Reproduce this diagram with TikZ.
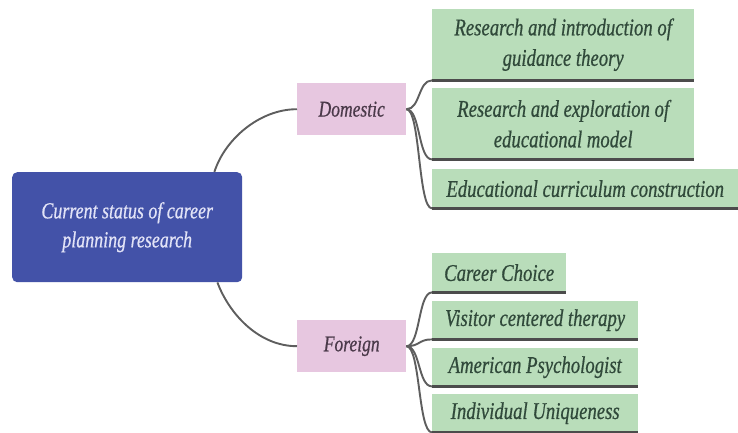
\documentclass[tikz,border=0pt]{standalone}
\usepackage{fontspec}
\newfontfamily\figfont{Liberation Serif}[FakeStretch=0.78,FakeBold=0.6]
\usetikzlibrary{calc}
\definecolor{cblue}{HTML}{4352A8}
\definecolor{cbluetext}{HTML}{E2E3F7}
\definecolor{cpink}{HTML}{E7C7E0}
\definecolor{cpinktext}{HTML}{4B3A4A}
\definecolor{cgreen}{HTML}{B9DDBA}
\definecolor{cgreentext}{HTML}{30493A}
\definecolor{cline}{HTML}{5E5E5E}
\definecolor{cunder}{HTML}{4C4C4C}
\begin{document}
\begin{tikzpicture}[x=1pt,y=-1pt,
  rootbox/.style={fill=cblue, rounded corners=5pt, inner sep=0pt, align=center,
    text=cbluetext, font=\figfont\itshape\fontsize{23}{29}\selectfont, anchor=north west},
  midbox/.style={fill=cpink, inner sep=0pt, align=center,
    text=cpinktext, font=\figfont\itshape\fontsize{22.5}{27}\selectfont, anchor=north west,
    minimum width=109pt, minimum height=52pt},
  leafbox/.style={fill=cgreen, inner sep=0pt, align=center,
    text=cgreentext, font=\figfont\itshape\fontsize{24}{30.5}\selectfont, anchor=north west},
  conn/.style={draw=cline, line width=1.9pt},
  under/.style={draw=cunder, line width=2.8pt}
]
\useasboundingbox (0,0) rectangle (738,433);
\fill[white] (0,0) rectangle (738,433);

\node[rootbox, minimum width=230pt, minimum height=110pt] (root) at (12,172)
  {Current status of career\\planning research};

\node[midbox] (dom) at (297,83) {Domestic};
\node[midbox] (for) at (297,320) {Foreign};

\node[leafbox, minimum width=262pt, minimum height=71pt] (d1) at (432,9)
  {Research and introduction of\\guidance theory};
\node[leafbox, minimum width=262pt, minimum height=71pt] (d2) at (432,88)
  {Research and exploration of\\educational model};
\node[leafbox, minimum width=306pt, minimum height=39pt] (d3) at (432,169)
  {Educational curriculum construction};

\node[leafbox, minimum width=134pt, minimum height=39pt] (f1) at (432,253)
  {Career Choice};
\node[leafbox, minimum width=206pt, minimum height=38pt] (f2) at (432,301)
  {Visitor centered therapy};
\node[leafbox, minimum width=206pt, minimum height=38pt] (f3) at (432,348)
  {American Psychologist};
\node[leafbox, minimum width=206pt, minimum height=38pt] (f4) at (432,394)
  {Individual Uniqueness};

% root to middle
\draw[conn] ($(root.north east)+(-28pt,0)$) .. controls +(10,-32) and +(-38,0) .. (dom.west);
\draw[conn] ($(root.south east)+(-25pt,0)$) .. controls +(12,32) and +(-38,0) .. (for.west);

% middle to leaves
\foreach \c in {d1,d2,d3}{
  \draw[conn] (dom.east) .. controls +(14,0) and +(-14,0) .. (\c.south west);
  \draw[under] (\c.south west) -- (\c.south east);
}
\foreach \c in {f1,f2,f3,f4}{
  \draw[conn] (for.east) .. controls +(14,0) and +(-14,0) .. (\c.south west);
  \draw[under] (\c.south west) -- (\c.south east);
}
\end{tikzpicture}
\end{document}
